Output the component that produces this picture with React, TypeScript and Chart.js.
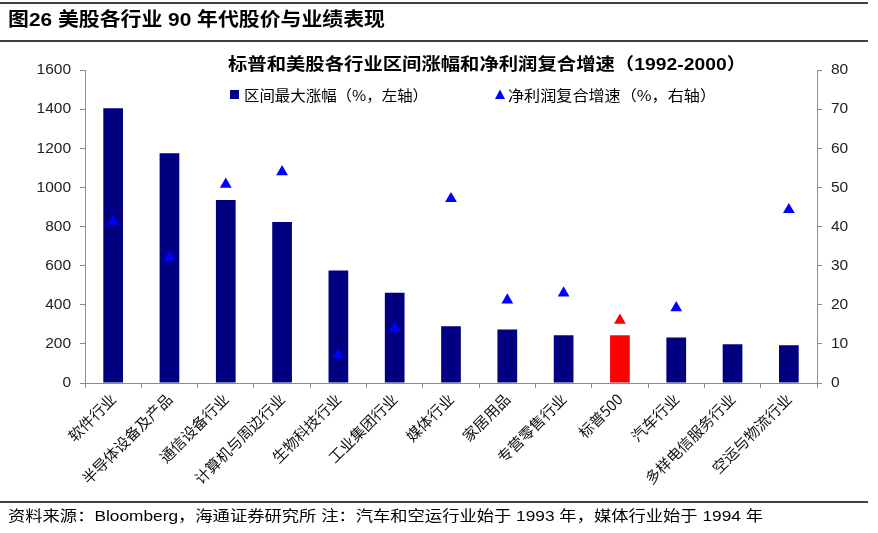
import { useEffect, useRef } from 'react';
import { Chart, registerables } from 'chart.js';

Chart.register(...registerables);

const figureTitle = '图26 美股各行业 90 年代股价与业绩表现';
const chartTitle = '标普和美股各行业区间涨幅和净利润复合增速（1992-2000）';
const legendGain = '区间最大涨幅（%，左轴）';
const legendProfit = '净利润复合增速（%，右轴）';
const footerText = '资料来源：Bloomberg，海通证券研究所 注：汽车和空运行业始于 1993 年，媒体行业始于 1994 年';

const categories = [
  '软件行业',
  '半导体设备及产品',
  '通信设备行业',
  '计算机与周边行业',
  '生物科技行业',
  '工业集团行业',
  '媒体行业',
  '家居用品',
  '专营零售行业',
  '标普500',
  '汽车行业',
  '多样电信服务行业',
  '空运与物流行业',
];

const maxGain = [1405, 1175, 935, 823, 575, 461, 290, 274, 244, 244, 233, 198, 193];
const profitCagr = [41.3, 32.1, 50.8, 54.0, 7.1, 14.0, 47.1, 21.2, 23.0, 16.0, 19.2, null, 44.3];
const highlightCategory = '标普500';

const leftTicks = [0, 200, 400, 600, 800, 1000, 1200, 1400, 1600];
const rightTicks = [0, 10, 20, 30, 40, 50, 60, 70, 80];

const NAVY = '#000080';
const BLUE = '#0000FF';
const RED = '#FF0000';
const AXIS = '#8c8c8c';
const FONT = '"Liberation Sans", "Noto Sans CJK SC", sans-serif';
const CJK = '"Noto Sans CJK SC", "Liberation Sans", sans-serif';

function drawFitted(ctx: CanvasRenderingContext2D, text: string, x: number, y: number, width: number, font: string) {
  ctx.save();
  ctx.font = font;
  ctx.fillStyle = '#000';
  ctx.textBaseline = 'middle';
  ctx.textAlign = 'left';
  const w = ctx.measureText(text).width;
  const s = width / w;
  ctx.translate(x, y);
  ctx.scale(s, 1);
  ctx.fillText(text, 0, 0);
  ctx.restore();
}

const decorPlugin = {
  id: 'decor',
  afterDraw(chart: any) {
    const ctx: CanvasRenderingContext2D = chart.ctx;
    ctx.save();
    ctx.strokeStyle = '#000';
    ctx.lineWidth = 1.5;
    const hline = (y: number) => {
      ctx.beginPath();
      ctx.moveTo(0, y);
      ctx.lineTo(868, y);
      ctx.stroke();
    };
    hline(3);
    hline(41);
    hline(502);
    ctx.restore();

    drawFitted(ctx, figureTitle, 8, 21, 377, `bold 19px ${FONT}`);
    drawFitted(ctx, chartTitle, 228, 65, 518, `bold 17px ${FONT}`);

    // legend
    ctx.save();
    ctx.fillStyle = NAVY;
    ctx.fillRect(230, 90, 9, 9);
    ctx.fillStyle = BLUE;
    ctx.beginPath();
    ctx.moveTo(500, 89.5);
    ctx.lineTo(505, 99);
    ctx.lineTo(495, 99);
    ctx.closePath();
    ctx.fill();
    ctx.restore();
    drawFitted(ctx, legendGain, 244, 95, 184, `15px ${CJK}`);
    drawFitted(ctx, legendProfit, 508, 95, 208, `15px ${CJK}`);

    drawFitted(ctx, footerText, 8, 517, 755, `15px ${FONT}`);
  },
};

export default function App() {
  const ref = useRef<HTMLCanvasElement | null>(null);

  useEffect(() => {
    if (!ref.current) return;
    const hi = categories.indexOf(highlightCategory);
    const barColors = categories.map((_, i) => (i === hi ? RED : NAVY));
    const triColors = categories.map((_, i) => (i === hi ? RED : BLUE));

    const chart = new Chart(ref.current, {
      type: 'bar',
      data: {
        labels: categories,
        datasets: [
          {
            type: 'line',
            label: legendProfit,
            data: profitCagr as any,
            yAxisID: 'y1',
            showLine: false,
            pointStyle: 'triangle',
            pointRadius: 6.8,
            pointHoverRadius: 6.8,
            pointBackgroundColor: triColors,
            pointBorderColor: triColors,
            pointBorderWidth: 0,
            order: 0,
          } as any,
          {
            type: 'bar',
            label: legendGain,
            data: maxGain,
            yAxisID: 'y',
            backgroundColor: barColors,
            borderWidth: 0,
            categoryPercentage: 1,
            barPercentage: 0.35,
            order: 1,
          },
        ],
      },
      options: {
        responsive: false,
        animation: false,
        devicePixelRatio: 1,
        layout: { padding: { top: 70, left: 0, right: 0, bottom: 0 } },
        plugins: {
          legend: { display: false },
          title: { display: false },
          tooltip: { enabled: false },
        },
        scales: {
          x: {
            offset: true,
            grid: {
              offset: true,
              drawOnChartArea: false,
              drawTicks: true,
              tickLength: 5,
              color: AXIS,
            },
            border: { display: true, color: AXIS, width: 1 },
            ticks: {
              maxRotation: 45,
              minRotation: 45,
              autoSkip: false,
              padding: 2,
              color: '#111',
              font: { family: CJK, size: 15 },
            },
            afterFit: (s: any) => {
              s.height = 150;
            },
          },
          y: {
            position: 'left',
            min: leftTicks[0],
            max: leftTicks[leftTicks.length - 1],
            afterBuildTicks: (s: any) => {
              s.ticks = leftTicks.map((v) => ({ value: v }));
            },
            grid: { drawOnChartArea: false, drawTicks: true, tickLength: 5, color: AXIS },
            border: { display: true, color: AXIS, width: 1 },
            ticks: {
              padding: 9,
              color: '#222',
              font: { family: FONT, size: 15.5 },
              callback: (v: any) => String(v),
            },
            afterFit: (s: any) => {
              s.width = 85;
            },
          },
          y1: {
            position: 'right',
            min: rightTicks[0],
            max: rightTicks[rightTicks.length - 1],
            afterBuildTicks: (s: any) => {
              s.ticks = rightTicks.map((v) => ({ value: v }));
            },
            grid: { drawOnChartArea: false, drawTicks: true, tickLength: 5, color: AXIS },
            border: { display: true, color: AXIS, width: 1 },
            ticks: {
              padding: 9,
              color: '#222',
              font: { family: FONT, size: 15.5 },
              callback: (v: any) => String(v),
            },
            afterFit: (s: any) => {
              s.width = 61;
            },
          },
        },
      },
      plugins: [decorPlugin],
    });
    return () => chart.destroy();
  }, []);

  return (
    <div style={{ position: 'fixed', left: 0, top: 0, width: 878, height: 533, background: '#fff' }}>
      <canvas ref={ref} width={878} height={533} style={{ display: 'block' }} />
    </div>
  );
}
